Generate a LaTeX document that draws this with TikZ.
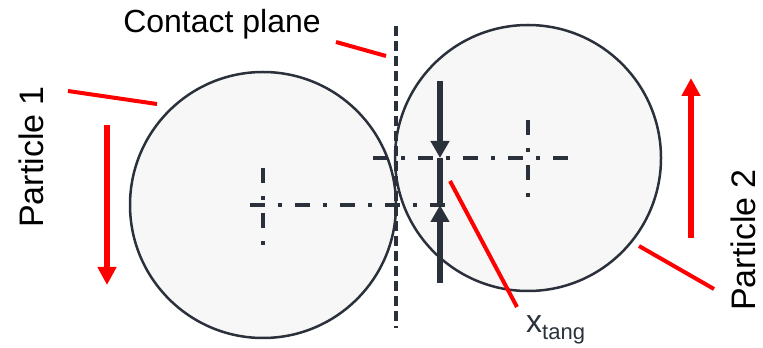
\documentclass[tikz,border=0pt]{standalone}
\usepackage{fontspec}
\setmainfont{Liberation Sans}
\usetikzlibrary{arrows.meta, calc}
\definecolor{linegray}{HTML}{2B313B}
\definecolor{partfill}{HTML}{F7F7F7}
\definecolor{markred}{HTML}{FF0000}
\tikzset{
    particle/.style={circle, draw=linegray, line width=2.5pt, fill=partfill, minimum size=266pt, inner sep=0pt},
    centerline/.style={linegray, line width=4pt, dash pattern=on 15pt off 13pt on 4pt off 13pt},
    planeline/.style={linegray, line width=4pt, dash pattern=on 10pt off 5pt},
    leader/.style={markred, line width=4pt},
    motion/.style={-{Triangle[length=18pt,width=18pt]}, markred, line width=5.5pt},
    dimarrow/.style={-{Triangle[length=17pt,width=18pt]}, linegray, line width=5.5pt},
}
\begin{document}
\begin{tikzpicture}[
  x=1pt,y=1pt,
  label/.style={inner sep=0pt,font=\fontsize{32}{36}\selectfont},
  sidelabel/.style={label,rotate=90,anchor=base,font=\fontsize{34}{40}\selectfont}
]
\useasboundingbox (0,0) rectangle (763,348);

% Particles
\node[particle] (p1) at (263,143) {};
\node[particle] (p2) at (528,190) {};

% Center lines
\draw[centerline] ([yshift=37]p1.center) -- ([yshift=-40]p1.center);
\draw[centerline] ([xshift=-13]p1.center) -- ([xshift=185]p1.center);
\draw[centerline] ([yshift=38]p2.center) -- ([yshift=-39]p2.center);
\draw[centerline] ([xshift=-155]p2.center) -- ([xshift=45]p2.center);

% Contact plane
\coordinate (planetop) at (396,322);
\coordinate (planebot) at (396,20);
\draw[planeline] (planetop) -- (planebot);

% Tangential overlap
\coordinate (dimtop) at (440,267);
\coordinate (dimbot) at (440,65);
\draw[linegray, line width=5.5pt] (dimtop |- p2.center) -- (dimbot |- p1.center);
\draw[dimarrow] (dimtop) -- (dimtop |- p2.center);
\draw[dimarrow] (dimbot) -- (dimbot |- p1.center);

% Motion arrows
\coordinate (mv1a) at (107,223);
\coordinate (mv1b) at (107,63);
\coordinate (mv2a) at (691,110);
\coordinate (mv2b) at (691,270);
\draw[motion] (mv1a) -- (mv1b);
\draw[motion] (mv2a) -- (mv2b);

% Labels
\node[label,anchor=base] (cplabel) at (222,315) {Contact plane};
\node[sidelabel] (p1label) at (43,191) {Particle 1};
\node[sidelabel] (p2label) at (755,108) {Particle 2};
\node[label,anchor=base west,text=linegray] (xlabel) at (526,16) {x\raisebox{-8pt}{\fontsize{22}{24}\selectfont tang}};

% Leaders
\coordinate (cpA) at (336,306);
\coordinate (cpB) at (386,292);
\coordinate (p1A) at (68,257);
\coordinate (p1B) at (157,244);
\coordinate (p2A) at (639,102);
\coordinate (p2B) at (714,59);
\coordinate (xA) at (450,167);
\coordinate (xB) at (517,41);
\draw[leader] (cpA) -- (cpB);
\draw[leader] (p1A) -- (p1B);
\draw[leader] (p2A) -- (p2B);
\draw[leader] (xA) -- (xB);
\end{tikzpicture}
\end{document}
